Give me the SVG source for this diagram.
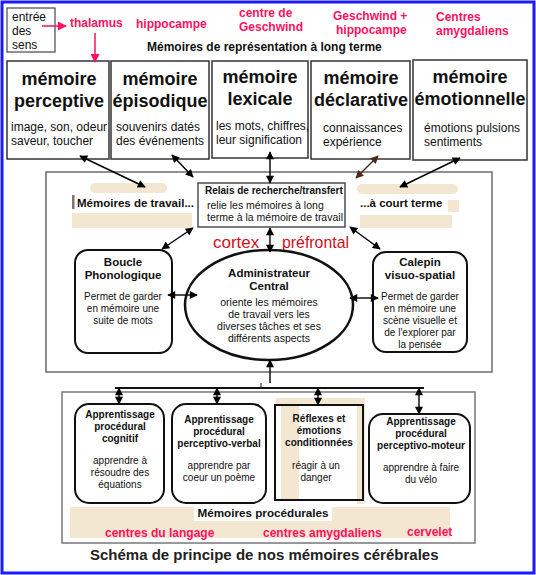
<svg xmlns="http://www.w3.org/2000/svg" width="536" height="575" viewBox="0 0 536 575">
<defs>
<style>
text{font-family:"Liberation Sans",Arial,sans-serif;fill:#111}
.b{font-weight:bold}
.pk{fill:#ff1060;font-weight:bold;font-size:12px}
.big{font-weight:bold;font-size:18px;text-anchor:middle}
.sub{font-size:12px}
.box{fill:#fff;stroke:#333;stroke-width:1.5}
.rbox{fill:#fff;stroke:#111;stroke-width:2}
.c{text-anchor:middle}
.m10{font-size:10px}
.m105{font-size:10.5px}
.ln{stroke:#000;stroke-width:1.4;fill:none}
.beige{fill:#f4e7d2}
</style>
<marker id="ah" viewBox="0 0 10 10" refX="9" refY="5" markerWidth="9" markerHeight="8" markerUnits="userSpaceOnUse" orient="auto-start-reverse"><path d="M0,0 L10,5 L0,10 z" fill="#000"/></marker>
<marker id="ahb" viewBox="0 0 10 10" refX="9" refY="5" markerWidth="9" markerHeight="8" markerUnits="userSpaceOnUse" orient="auto-start-reverse"><path d="M0,0 L10,5 L0,10 z" fill="#4a2a18"/></marker>
<marker id="ahp" viewBox="0 0 10 10" refX="9" refY="5" markerWidth="10" markerHeight="9" markerUnits="userSpaceOnUse" orient="auto"><path d="M0,0 L10,5 L0,10 z" fill="#ff1060"/></marker>
</defs>
<rect x="0" y="0" width="536" height="575" fill="#fff"/>
<rect x="2" y="2" width="532" height="571" fill="none" stroke="#1a1aff" stroke-width="3"/>

<!-- top labels -->
<g id="entree">
<rect x="7" y="8" width="48" height="44" fill="#fff" stroke="#555" stroke-width="1.3"/>
<text class="sub" x="12" y="21">entrée</text>
<text class="sub" x="12" y="35">des</text>
<text class="sub" x="12" y="49">sens</text>
</g>
<g id="labels-top">
<text class="pk" x="70" y="27">thalamus</text>
<text class="pk" x="136" y="28">hippocampe</text>
<text class="pk" x="239" y="17">centre de</text>
<text class="pk" x="239" y="31">Geschwind</text>
<text class="pk" x="333" y="20">Geschwind +</text>
<text class="pk" x="336" y="34">hippocampe</text>
<text class="pk" x="436" y="21">Centres</text>
<text class="pk" x="436" y="35">amygdaliens</text>
<text class="b" x="147" y="51" font-size="12">Mémoires de représentation à long terme</text>
</g>

<!-- top memory boxes -->
<g id="m-perceptive">
<rect class="box" x="7" y="61" width="102" height="98"/>
<text class="big" x="59" y="85">mémoire</text>
<text class="big" x="59" y="107">perceptive</text>
<text class="sub" x="11" y="131">image, son, odeur</text>
<text class="sub" x="11" y="145">saveur, toucher</text>
</g>
<g id="m-episodique">
<rect class="box" x="111" y="61" width="98" height="98"/>
<text class="big" x="160" y="85">mémoire</text>
<text class="big" x="160" y="107">épisodique</text>
<text class="sub" x="116" y="131">souvenirs datés</text>
<text class="sub" x="116" y="145">des événements</text>
</g>
<g id="m-lexicale">
<rect class="box" x="212" y="61" width="96" height="97"/>
<text class="big" x="260" y="83">mémoire</text>
<text class="big" x="260" y="105">lexicale</text>
<text class="sub" x="216" y="130">les mots, chiffres,</text>
<text class="sub" x="216" y="144">leur signification</text>
</g>
<g id="m-declarative">
<rect class="box" x="311" y="61" width="99" height="98"/>
<text class="big" x="361" y="84">mémoire</text>
<text class="big" x="361" y="106">déclarative</text>
<text class="sub" x="323" y="132">connaissances</text>
<text class="sub" x="323" y="146">expérience</text>
</g>
<g id="m-emotionnelle">
<rect class="box" x="413" y="60" width="114" height="100"/>
<text class="big" x="470" y="83">mémoire</text>
<text class="big" x="470" y="105">émotionnelle</text>
<text class="sub" x="424" y="132">émotions pulsions</text>
<text class="sub" x="424" y="146">sentiments</text>
</g>

<!-- working memory frame -->
<g id="memoire-travail">
<rect x="46" y="172" width="446" height="200" fill="#fff" stroke="#555" stroke-width="1.3"/>
<rect class="beige" x="90" y="183" width="77" height="10" rx="5"/>
<rect x="72" y="195" width="2.5" height="14" fill="#777"/>
<text class="b" x="77" y="207" font-size="11.5">Mémoires de travail...</text>
<rect class="beige" x="72" y="213" width="120" height="15"/>
<rect class="beige" x="357" y="184" width="101" height="10" rx="5"/>
<text class="b" x="360" y="207" font-size="11.5">...à court terme</text>
<rect class="beige" x="448" y="200" width="11" height="12"/>
<rect class="beige" x="360" y="215" width="92" height="13"/>
<text x="213" y="248" font-size="17" fill="#d01020" style="fill:#d01020">cortex</text>
<text x="282" y="248" font-size="17" textLength="67" lengthAdjust="spacingAndGlyphs" style="fill:#d01020">préfrontal</text>
</g>
<g id="relais">
<rect x="198" y="183" width="147" height="44" fill="#fff" stroke="#333" stroke-width="1.3"/>
<text class="b" x="205" y="194" font-size="10">Relais de recherche/transfert</text>
<text class="m105" x="207" y="209">relie les mémoires à long</text>
<text class="m105" x="207" y="221">terme à la mémoire de travail</text>
</g>
<g id="boucle">
<rect class="rbox" x="75" y="250" width="97" height="103" rx="13"/>
<text class="b c" x="123" y="266" font-size="11.5">Boucle</text>
<text class="b c" x="123" y="279" font-size="11.5">Phonologique</text>
<text class="m10 c" x="123" y="300">Permet de garder</text>
<text class="m10 c" x="123" y="312">en mémoire une</text>
<text class="m10 c" x="123" y="324">suite de mots</text>
</g>
<g id="administrateur">
<ellipse cx="269" cy="305" rx="84" ry="55" fill="#fff" stroke="#111" stroke-width="2.5"/>
<text class="b c" x="269" y="277" font-size="11.5">Administrateur</text>
<text class="b c" x="269" y="290" font-size="11.5">Central</text>
<text class="m105 c" x="269" y="306">oriente les mémoires</text>
<text class="m105 c" x="269" y="318">de travail vers les</text>
<text class="m105 c" x="269" y="330">diverses tâches et ses</text>
<text class="m105 c" x="269" y="342">différents aspects</text>
</g>
<g id="calepin">
<rect class="rbox" x="373" y="252" width="94" height="100" rx="13"/>
<text class="b c" x="420" y="266" font-size="11.5">Calepin</text>
<text class="b c" x="420" y="279" font-size="11.5">visuo-spatial</text>
<text class="m10 c" x="420" y="300">Permet de garder</text>
<text class="m10 c" x="420" y="312">en mémoire une</text>
<text class="m10 c" x="420" y="324">scène visuelle et</text>
<text class="m10 c" x="420" y="336">de l'explorer par</text>
<text class="m10 c" x="420" y="348">la pensée</text>
</g>

<!-- procedural frame -->
<g id="memoires-procedurales">
<rect x="62" y="392" width="413" height="151" fill="#fff" stroke="#777" stroke-width="1.5"/>
<rect class="beige" x="70" y="507" width="380" height="31"/>
<rect x="194" y="507" width="138" height="14" fill="#fff"/>
<text class="b c" x="263" y="517" font-size="11.7">Mémoires procédurales</text>
<text class="pk" x="105" y="537">centres du langage</text>
<text class="pk" x="263" y="537">centres amygdaliens</text>
<text class="pk" x="407" y="536">cervelet</text>
</g>
<g id="p-cognitif">
<rect class="rbox" x="75" y="404" width="89" height="99" rx="14"/>
<text class="b c m10" x="120" y="418">Apprentissage</text>
<text class="b c m10" x="120" y="430">procédural</text>
<text class="b c m10" x="120" y="442">cognitif</text>
<text class="m10 c" x="120" y="464">apprendre à</text>
<text class="m10 c" x="120" y="476">résoudre des</text>
<text class="m10 c" x="120" y="488">équations</text>
</g>
<g id="p-verbal">
<rect class="rbox" x="172" y="404" width="94" height="99" rx="14"/>
<text class="b c m10" x="219" y="423">Apprentissage</text>
<text class="b c m10" x="219" y="435">procédural</text>
<text class="b c m10" x="219" y="447">perceptivo-verbal</text>
<text class="m10 c" x="219" y="469">apprendre par</text>
<text class="m10 c" x="219" y="481">coeur un poème</text>
</g>
<g id="reflexes">
<rect class="beige" x="276" y="398" width="87" height="6"/>
<rect x="275" y="405" width="88" height="95" fill="#fff"/>
<rect class="beige" x="281" y="405" width="18" height="95"/>
<rect class="beige" x="357" y="398" width="8" height="106"/>
<rect x="275" y="405" width="88" height="95" fill="none" stroke="#111" stroke-width="2"/>
<text class="b c m10" x="319" y="422">Réflexes et</text>
<text class="b c m10" x="319" y="434">émotions</text>
<text class="b c m10" x="319" y="446">conditionnées</text>
<text class="m10 c" x="316" y="469">réagir à un</text>
<text class="m10 c" x="316" y="481">danger</text>
</g>
<g id="p-moteur">
<rect class="rbox" x="369" y="414" width="101" height="89" rx="14"/>
<text class="b c m10" x="421" y="425">Apprentissage</text>
<text class="b c m10" x="421" y="437">procédural</text>
<text class="b c m10" x="421" y="449">perceptivo-moteur</text>
<text class="m10 c" x="421" y="471">apprendre à faire</text>
<text class="m10 c" x="421" y="483">du vélo</text>
</g>

<g id="title">
<text class="b" x="90" y="560" font-size="15" fill="#222" style="fill:#222">Schéma de principe de nos mémoires cérébrales</text>
</g>

<!-- connectors -->
<g id="connectors">
<line x1="42" y1="26" x2="66" y2="26" stroke="#ff1060" stroke-width="1.5" marker-end="url(#ahp)"/>
<line x1="95" y1="33" x2="95" y2="62" stroke="#ff1060" stroke-width="1.5" marker-end="url(#ahp)"/>
<line class="ln" x1="80" y1="156" x2="145" y2="187" marker-start="url(#ah)" marker-end="url(#ah)"/>
<line class="ln" x1="172" y1="155" x2="193" y2="177" marker-start="url(#ah)" marker-end="url(#ah)"/>
<line class="ln" x1="270" y1="152" x2="270" y2="183" marker-start="url(#ah)" marker-end="url(#ah)"/>
<line x1="378" y1="156" x2="356" y2="178" stroke="#4a2a18" stroke-width="1.4" marker-start="url(#ahb)" marker-end="url(#ahb)"/>
<line class="ln" x1="460" y1="158" x2="400" y2="187" marker-start="url(#ah)" marker-end="url(#ah)"/>
<line class="ln" x1="270" y1="228" x2="270" y2="252" stroke-width="2" marker-start="url(#ah)" marker-end="url(#ah)"/>
<line class="ln" x1="193" y1="228" x2="162" y2="249" marker-start="url(#ah)" marker-end="url(#ah)"/>
<line class="ln" x1="350" y1="227" x2="380" y2="249" marker-start="url(#ah)" marker-end="url(#ah)"/>
<line class="ln" x1="168" y1="295" x2="197" y2="295" stroke-width="2" marker-start="url(#ah)" marker-end="url(#ah)"/>
<line class="ln" x1="350" y1="298" x2="378" y2="298" stroke-width="2" marker-start="url(#ah)" marker-end="url(#ah)"/>
<line class="ln" x1="270" y1="383" x2="270" y2="360" marker-end="url(#ah)"/>
<line x1="115" y1="388" x2="424" y2="388" stroke="#111" stroke-width="2"/>
<line x1="261" y1="383" x2="261" y2="388" stroke="#111" stroke-width="1"/>
<line class="ln" x1="119" y1="388" x2="119" y2="404" stroke-width="2" marker-start="url(#ah)" marker-end="url(#ah)"/>
<line class="ln" x1="217" y1="388" x2="217" y2="404" stroke-width="2" marker-start="url(#ah)" marker-end="url(#ah)"/>
<line class="ln" x1="318" y1="388" x2="318" y2="405" stroke-width="2" marker-start="url(#ah)" marker-end="url(#ah)"/>
<line class="ln" x1="419" y1="388" x2="419" y2="414" stroke-width="2" marker-start="url(#ah)" marker-end="url(#ah)"/>
</g>
</svg>
